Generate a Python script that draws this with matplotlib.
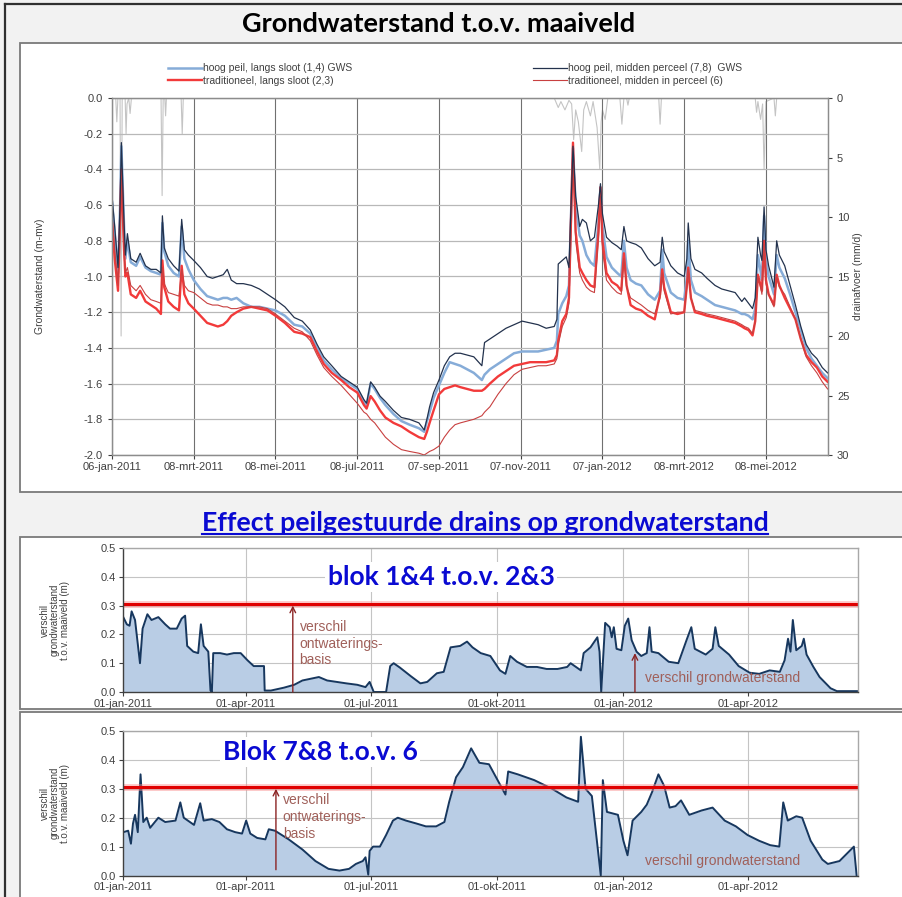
import numpy as np
import pandas as pd
import matplotlib
matplotlib.use("Agg")
import matplotlib.pyplot as plt
from matplotlib.patches import Rectangle
from matplotlib.lines import Line2D

W, H = 902, 897
plt.rcParams['font.family'] = ['Liberation Sans', 'DejaVu Sans']
TITLE_FONT = ['Lato', 'DejaVu Sans']

# ---------------- data: top chart (days after 06-jan-2011) ----------------
top_start = "2011-01-06"
top_days = [0, 2, 4.5, 6, 7, 9, 10, 11.5, 14, 18,
            21, 25, 29, 33, 36.5, 37.6, 39, 42, 46, 50,
            52, 54, 57, 61, 66, 71, 75, 79, 83, 86,
            89, 93, 98, 104, 110, 116, 122, 129, 136, 142,
            148, 153, 158, 164, 171, 177, 183, 188, 190, 193,
            196, 200, 204, 210, 216, 222, 229, 233, 235, 237,
            240, 244, 248, 252, 256, 260, 265, 270, 276, 278,
            282, 288, 294, 300, 306, 312, 318, 324, 330, 332,
            333, 336, 339, 341, 344, 346, 349, 351, 354, 357,
            360, 363, 364.5, 366, 369, 373, 377, 380, 382, 384,
            387, 391, 395, 400, 405, 409, 410.6, 412, 417, 422,
            427, 429, 430, 432, 435, 440, 444, 450, 455, 460,
            465, 470, 472, 475, 478, 480, 482, 484, 485, 486.6,
            488, 490, 494, 496, 498, 502, 506, 510, 514, 518,
            522, 526, 530, 534]
# hoog peil, midden perceel (7,8)
gws_78 = [-0.55, -0.72, -0.95, -0.60, -0.25, -0.70, -0.88, -0.76, -0.90, -0.92,
          -0.87, -0.94, -0.96, -0.96, -0.98, -0.66, -0.84, -0.90, -0.94, -0.97,
          -0.68, -0.85, -0.88, -0.91, -0.95, -1.00, -1.01, -1.00, -0.99, -0.96,
          -1.02, -1.04, -1.04, -1.05, -1.07, -1.10, -1.13, -1.17, -1.23, -1.25,
          -1.30, -1.38, -1.45, -1.50, -1.56, -1.59, -1.62, -1.69, -1.71, -1.59,
          -1.62, -1.67, -1.70, -1.75, -1.79, -1.80, -1.82, -1.86, -1.80, -1.73,
          -1.65, -1.58, -1.50, -1.45, -1.43, -1.43, -1.44, -1.45, -1.50, -1.37,
          -1.35, -1.32, -1.29, -1.27, -1.25, -1.26, -1.27, -1.29, -1.28, -1.24,
          -0.93, -0.91, -0.89, -0.95, -0.27, -0.55, -0.72, -0.68, -0.70, -0.80,
          -0.78, -0.60, -0.48, -0.65, -0.78, -0.81, -0.83, -0.85, -0.72, -0.80,
          -0.81, -0.82, -0.84, -0.90, -0.94, -0.92, -0.78, -0.86, -0.94, -0.98,
          -1.00, -0.90, -0.70, -0.90, -0.96, -0.98, -1.01, -1.05, -1.07, -1.08,
          -1.09, -1.14, -1.12, -1.15, -1.18, -1.12, -0.78, -0.88, -0.91, -0.61,
          -0.85, -0.94, -1.06, -0.80, -0.88, -0.94, -1.05, -1.16, -1.28, -1.38,
          -1.43, -1.46, -1.51, -1.54]
# hoog peil, langs sloot (1,4)
gws_14 = [-0.58, -0.75, -0.98, -0.62, -0.27, -0.72, -0.90, -0.80, -0.92, -0.94,
          -0.89, -0.95, -0.97, -0.98, -0.99, -0.70, -0.86, -0.94, -0.98, -1.00,
          -0.72, -0.90, -0.96, -1.02, -1.07, -1.11, -1.12, -1.13, -1.12, -1.12,
          -1.13, -1.12, -1.15, -1.17, -1.17, -1.18, -1.19, -1.22, -1.27, -1.28,
          -1.32, -1.40, -1.47, -1.52, -1.57, -1.60, -1.63, -1.70, -1.72, -1.60,
          -1.63, -1.68, -1.72, -1.77, -1.81, -1.83, -1.85, -1.87, -1.81, -1.76,
          -1.68, -1.61, -1.54, -1.48, -1.49, -1.50, -1.52, -1.54, -1.58, -1.55,
          -1.52, -1.49, -1.46, -1.43, -1.42, -1.42, -1.42, -1.41, -1.40, -1.36,
          -1.21, -1.15, -1.11, -1.05, -0.28, -0.60, -0.77, -0.80, -0.88, -0.92,
          -0.94, -0.70, -0.50, -0.72, -0.89, -0.95, -0.98, -1.00, -0.80, -0.95,
          -1.02, -1.04, -1.05, -1.10, -1.13, -1.08, -0.85, -0.98, -1.09, -1.12,
          -1.13, -1.00, -0.80, -1.02, -1.09, -1.11, -1.13, -1.16, -1.17, -1.18,
          -1.19, -1.21, -1.21, -1.22, -1.24, -1.18, -0.88, -0.97, -1.02, -0.66,
          -0.90, -1.00, -1.10, -0.88, -0.95, -1.01, -1.10, -1.20, -1.30, -1.40,
          -1.46, -1.50, -1.54, -1.57]
# traditioneel, langs sloot (2,3)
gws_23 = [-0.70, -0.90, -1.08, -0.70, -0.40, -0.85, -1.00, -0.98, -1.10, -1.12,
          -1.08, -1.14, -1.16, -1.18, -1.21, -0.91, -1.06, -1.14, -1.17, -1.19,
          -0.94, -1.10, -1.15, -1.18, -1.22, -1.26, -1.27, -1.28, -1.27, -1.25,
          -1.22, -1.20, -1.18, -1.17, -1.18, -1.19, -1.22, -1.26, -1.31, -1.32,
          -1.34, -1.42, -1.49, -1.54, -1.58, -1.62, -1.65, -1.72, -1.74, -1.67,
          -1.70, -1.75, -1.79, -1.82, -1.84, -1.87, -1.90, -1.91, -1.87, -1.82,
          -1.75, -1.66, -1.63, -1.62, -1.61, -1.62, -1.63, -1.64, -1.64, -1.63,
          -1.60, -1.56, -1.53, -1.50, -1.49, -1.48, -1.48, -1.48, -1.47, -1.44,
          -1.36, -1.25, -1.21, -1.12, -0.25, -0.75, -0.95, -0.98, -1.02, -1.05,
          -1.06, -0.75, -0.50, -0.80, -0.98, -1.03, -1.05, -1.08, -0.87, -1.05,
          -1.16, -1.18, -1.19, -1.22, -1.24, -1.10, -0.96, -1.06, -1.20, -1.21,
          -1.20, -1.05, -0.95, -1.12, -1.20, -1.21, -1.22, -1.23, -1.24, -1.25,
          -1.26, -1.28, -1.29, -1.30, -1.33, -1.25, -0.99, -1.05, -1.08, -0.80,
          -1.02, -1.10, -1.16, -0.99, -1.05, -1.12, -1.18, -1.24, -1.35, -1.44,
          -1.48, -1.51, -1.56, -1.59]
# traditioneel, midden in perceel (6)
gws_6 = [-0.65, -0.85, -1.05, -0.72, -0.45, -0.88, -0.98, -0.95, -1.05, -1.08,
         -1.05, -1.10, -1.13, -1.14, -1.15, -0.95, -1.04, -1.09, -1.10, -1.11,
         -0.96, -1.05, -1.08, -1.09, -1.12, -1.15, -1.16, -1.16, -1.17, -1.17,
         -1.18, -1.18, -1.17, -1.17, -1.17, -1.18, -1.21, -1.25, -1.29, -1.31,
         -1.36, -1.44, -1.51, -1.56, -1.61, -1.66, -1.71, -1.76, -1.77, -1.80,
         -1.82, -1.86, -1.90, -1.94, -1.97, -1.98, -1.99, -2.00, -1.99, -1.98,
         -1.97, -1.95, -1.90, -1.86, -1.83, -1.82, -1.81, -1.80, -1.78, -1.76,
         -1.73, -1.66, -1.60, -1.55, -1.52, -1.51, -1.50, -1.50, -1.49, -1.46,
         -1.38, -1.28, -1.23, -1.15, -0.30, -0.80, -0.98, -1.02, -1.06, -1.08,
         -1.09, -0.78, -0.55, -0.85, -1.02, -1.06, -1.09, -1.10, -0.90, -1.06,
         -1.12, -1.14, -1.16, -1.19, -1.21, -1.12, -0.98, -1.08, -1.21, -1.20,
         -1.20, -1.06, -0.96, -1.12, -1.19, -1.20, -1.21, -1.22, -1.23, -1.24,
         -1.25, -1.27, -1.28, -1.29, -1.32, -1.25, -1.00, -1.06, -1.10, -0.82,
         -1.04, -1.10, -1.17, -1.00, -1.06, -1.10, -1.17, -1.24, -1.35, -1.45,
         -1.50, -1.54, -1.59, -1.63]
# drainafvoer (mm/d), right axis
drain_days = [0, 2.8, 3.6, 4.4, 6.0, 6.8, 7.6, 9.8, 10.5, 11.2,
              12.5, 13.5, 14.5, 36.6, 37.4, 38.2, 39.4, 40.0, 40.6, 51.6,
              52.4, 53.2, 330, 333, 335, 338, 341, 343, 344.5, 346,
              348, 350.5, 352, 354, 357, 359, 362, 364, 365, 366,
              368, 370, 379, 380.5, 382, 384, 385, 386, 408, 409,
              410, 480, 481, 482, 484, 485.5, 486.6, 488, 494, 495,
              496, 534]
drain_mm = [0, 0, 2.0, 0, 0, 20.0, 0, 0, 3.0, 0.5,
            0, 1.3, 0, 0, 8.2, 0, 0, 1.5, 0, 0,
            3.0, 0, 0, 0.8, 0.3, 1.0, 0.2, 0.5, 3.5, 1.0,
            2.0, 4.5, 1.0, 0.3, 1.5, 0.3, 2.5, 6.0, 2.0, 1.0,
            1.8, 0, 0, 2.2, 0, 0, 0.6, 0, 0, 2.2,
            0, 0, 1.2, 0.3, 1.8, 0.5, 6.0, 0.3, 0, 1.5,
            0, 0]
top_ticks = ["2011-01-06", "2011-03-08", "2011-05-08", "2011-07-08", "2011-09-07",
             "2011-11-07", "2012-01-07", "2012-03-08", "2012-05-08"]
top_tick_labels = ["06-jan-2011", "08-mrt-2011", "08-mei-2011", "08-jul-2011", "07-sep-2011",
                   "07-nov-2011", "07-jan-2012", "08-mrt-2012", "08-mei-2012"]
legend_labels = ["hoog peil, langs sloot (1,4) GWS", "traditioneel, langs sloot (2,3)",
                 "hoog peil, midden perceel (7,8)  GWS", "traditioneel, midden in perceel (6)"]

# ---------------- data: difference panels (days after 01-jan-2011) ----------------
diff_start = "2011-01-01"
blok14_days = [0, 3, 5, 6.5, 9, 12.6, 14.5, 18, 21, 26,
               31, 34.5, 39.4, 43, 45.5, 47, 51.5, 55, 57, 59,
               62.4, 64, 65, 66, 71, 76, 81, 86, 91, 95.5,
               103, 103.5, 108, 117.5, 125, 131, 137, 143, 149, 156,
               163, 171, 177, 180, 183, 192, 195, 197.5, 202, 210,
               217, 222, 229, 234, 239, 246, 251, 255, 261, 268,
               275, 279, 282.5, 287.4, 294.6, 302, 309, 317, 324, 326.5,
               334, 336, 341, 346, 347.6, 348.8, 350, 351.7, 355, 356.5,
               358, 360, 363.5, 366, 368.5, 371, 374.6, 378, 382, 384,
               385.6, 390.5, 398, 405, 411, 414.5, 417, 425, 430, 432,
               434.5, 442, 449, 457, 464, 471.6, 479, 482.5, 485, 486.8,
               488.5, 491, 495, 496.5, 498.5, 503.5, 508, 516, 520.6, 536]
blok14_diff = [0.264, 0.235, 0.23, 0.28, 0.25, 0.10, 0.22, 0.27, 0.25, 0.26,
               0.235, 0.22, 0.22, 0.255, 0.265, 0.16, 0.14, 0.135, 0.235, 0.16,
               0.14, 0.005, 0.0, 0.135, 0.135, 0.13, 0.135, 0.135, 0.11, 0.09,
               0.09, 0.005, 0.005, 0.015, 0.025, 0.04, 0.046, 0.052, 0.04, 0.035,
               0.03, 0.025, 0.017, 0.035, 0.0, 0.0, 0.09, 0.10, 0.085, 0.055,
               0.03, 0.035, 0.065, 0.07, 0.155, 0.16, 0.175, 0.155, 0.135, 0.125,
               0.075, 0.063, 0.125, 0.105, 0.087, 0.087, 0.08, 0.08, 0.087, 0.10,
               0.075, 0.135, 0.155, 0.19, 0.14, 0.0, 0.10, 0.24, 0.225, 0.19,
               0.225, 0.15, 0.145, 0.23, 0.255, 0.18, 0.14, 0.125, 0.135, 0.225,
               0.14, 0.135, 0.105, 0.10, 0.18, 0.225, 0.15, 0.13, 0.15, 0.225,
               0.16, 0.13, 0.09, 0.067, 0.063, 0.075, 0.07, 0.11, 0.185, 0.14,
               0.25, 0.145, 0.16, 0.185, 0.13, 0.087, 0.052, 0.013, 0.003, 0.003]
blok78_days = [0.5, 4, 6, 7.5, 9, 11, 13, 15, 17.5, 20,
               26, 31, 38.5, 42, 44.5, 52, 56.5, 59, 65, 70.5,
               76, 82, 87, 90, 93, 98, 104, 106.5, 111, 116,
               121, 131, 140.5, 150, 158, 165, 170, 175, 177, 179,
               180, 182.5, 187.5, 192, 197, 200.5, 206.5, 214, 221, 228.5,
               234.5, 238, 243, 248, 254, 260, 267, 279, 281, 288,
               300, 313, 323.5, 332, 334, 337.4, 342, 348.5, 350, 353,
               361, 365, 368, 371.7, 378, 382, 386, 390.5, 394.7, 398.7,
               403, 407, 413, 422, 430, 438.8, 447, 455.5, 464, 472,
               478.6, 481.5, 484.8, 491, 495.3, 501.5, 510, 514, 522.5, 533,
               535]
blok78_diff = [0.15, 0.155, 0.11, 0.18, 0.21, 0.15, 0.35, 0.185, 0.20, 0.165,
               0.20, 0.185, 0.19, 0.253, 0.20, 0.175, 0.25, 0.19, 0.195, 0.185,
               0.16, 0.15, 0.145, 0.19, 0.145, 0.13, 0.125, 0.16, 0.155, 0.14,
               0.125, 0.09, 0.05, 0.023, 0.017, 0.023, 0.04, 0.05, 0.063, 0.003,
               0.085, 0.10, 0.10, 0.14, 0.19, 0.20, 0.19, 0.18, 0.17, 0.17,
               0.185, 0.255, 0.34, 0.375, 0.44, 0.39, 0.385, 0.28, 0.36, 0.35,
               0.33, 0.30, 0.27, 0.255, 0.48, 0.30, 0.275, 0.0, 0.33, 0.22,
               0.21, 0.12, 0.07, 0.19, 0.22, 0.245, 0.29, 0.35, 0.31, 0.235,
               0.24, 0.26, 0.21, 0.225, 0.235, 0.19, 0.17, 0.14, 0.12, 0.105,
               0.10, 0.253, 0.19, 0.205, 0.20, 0.12, 0.055, 0.04, 0.05, 0.10,
               0.0]
verschil_basis = 0.305
diff_ticks = ["2011-01-01", "2011-04-01", "2011-07-01", "2011-10-01", "2012-01-01", "2012-04-01"]
diff_tick_labels = ["01-jan-2011", "01-apr-2011", "01-jul-2011", "01-okt-2011", "01-jan-2012", "01-apr-2012"]


def fx(px):
    return px / W


def fy(py):
    return 1 - py / H


def box(x0, y0, x1, y1):
    return [fx(x0), fy(y1), fx(x1) - fx(x0), fy(y0) - fy(y1)]


def to_dates(start, days):
    return pd.Timestamp(start) + pd.to_timedelta(np.asarray(days, dtype=float), unit="D")


fig = plt.figure(figsize=(W / 100, H / 100), dpi=100, facecolor="#f2f2f2")

# slide frame and white panels
fig.add_artist(Line2D([fx(5), fx(5)], [0, fy(4)], color="#303030", lw=1.6, transform=fig.transFigure))
fig.add_artist(Line2D([fx(5), 1], [fy(4), fy(4)], color="#303030", lw=1.6, transform=fig.transFigure))
for (y0, y1) in [(43, 492), (537, 709), (712, 905)]:
    fig.add_artist(Rectangle((fx(20), fy(y1)), fx(910) - fx(20), fy(y0) - fy(y1),
                             transform=fig.transFigure, facecolor="white",
                             edgecolor="#7a7a7a", lw=1.3, zorder=-1))

fig.text(fx(439), fy(24), "Grondwaterstand t.o.v. maaiveld", ha="center", va="center",
         fontsize=19.5, fontweight="bold", family=TITLE_FONT, color="black")

# ---------------- top chart ----------------
ax = fig.add_axes(box(112, 98, 828, 455))
ax2 = ax.twinx()
ax.set_zorder(ax2.get_zorder() + 1)
ax.patch.set_visible(False)
ax2.set_facecolor("white")

tdates = to_dates(top_start, top_days)
h_blue, = ax.plot(tdates, gws_14, color="#86acd8", lw=1.8, label=legend_labels[0])
h_red, = ax.plot(tdates, gws_23, color="#f23a3a", lw=1.7, label=legend_labels[1])
h_red6, = ax.plot(tdates, gws_6, color="#c84040", lw=0.8, label=legend_labels[3])
h_navy, = ax.plot(tdates, gws_78, color="#23324d", lw=0.9, label=legend_labels[2])
ax2.plot(to_dates(top_start, drain_days), drain_mm, color="#c4c4c4", lw=0.8)

x0 = pd.Timestamp(top_start)
ax.set_xlim(x0, x0 + pd.Timedelta(days=534.3))
ax.set_ylim(-2.0, 0.0)
ax.set_yticks(np.round(np.arange(-2.0, 0.01, 0.2), 1))
ax.set_yticklabels([f"{v:.1f}".replace("-0.0", "0.0") for v in np.round(np.arange(-2.0, 0.01, 0.2), 1)])
ax.set_xticks(pd.to_datetime(top_ticks))
ax.set_xticklabels(top_tick_labels)
ax2.set_ylim(30, 0)
ax2.set_yticks(range(0, 31, 5))
ax.yaxis.grid(True, color="#b8b8b8", lw=0.9)
ax.xaxis.grid(True, color="#707070", lw=0.8)
ax.set_axisbelow(True)
for a in (ax, ax2):
    a.tick_params(labelsize=8, colors="#404040", length=3, width=0.8)
    for s in a.spines.values():
        s.set_color("#8c8c8c")
        s.set_linewidth(0.9)
ax.tick_params(axis="x", pad=2)

fig.text(fx(40), fy(276), "Grondwaterstand (m-mv)", rotation=90, ha="center", va="center",
         fontsize=7.5, color="#404040")
fig.text(fx(858), fy(276), "drainafvoer (mm/d)", rotation=90, ha="center", va="center",
         fontsize=7.5, color="#404040")

leg_kw = dict(loc="upper left", frameon=False, fontsize=7.5, handlelength=3.2,
              handletextpad=0.1, labelspacing=0.25, borderpad=0, labelcolor="#404040")
fig.legend(handles=[h_blue, h_red], bbox_to_anchor=(fx(163), fy(58)), **leg_kw)
fig.legend(handles=[h_navy, h_red6], bbox_to_anchor=(fx(528), fy(58)), **leg_kw)

# ---------------- difference panels ----------------
eff = fig.text(fx(485), fy(523), "Effect peilgestuurde drains op grondwaterstand", ha="center",
               va="center", fontsize=19.3, fontweight="bold", family=TITLE_FONT, color="#0a0ad2")


def plot_difference(axes, days, values):
    d = to_dates(diff_start, days)
    axes.fill_between(d, values, 0, color="#b9cde5", lw=0)
    axes.plot(d, values, color="#17375e", lw=1.4)
    axes.axhline(verschil_basis, color="#ff8c8c", lw=5, alpha=0.45)
    axes.axhline(verschil_basis, color="#e00000", lw=2.2)
    s = pd.Timestamp(diff_start)
    axes.set_xlim(s, s + pd.Timedelta(days=536))
    axes.set_ylim(0, 0.5)
    axes.set_yticks(np.round(np.arange(0, 0.51, 0.1), 1))
    axes.set_yticklabels([f"{v:.1f}" for v in np.round(np.arange(0, 0.51, 0.1), 1)])
    axes.set_xticks(pd.to_datetime(diff_ticks))
    axes.set_xticklabels(diff_tick_labels)
    axes.grid(True, color="#c4c4c4", lw=0.8)
    axes.set_axisbelow(True)
    axes.tick_params(labelsize=8, colors="#404040", length=3, width=0.8, pad=2)
    for name, s_ in axes.spines.items():
        s_.set_color("#404040" if name in ("left", "bottom") else "#a8a8a8")
        s_.set_linewidth(1.0)


ax_a = fig.add_axes(box(122.7, 548, 858, 692))
plot_difference(ax_a, blok14_days, blok14_diff)
ax_b = fig.add_axes(box(122.7, 731, 858, 875.5))
plot_difference(ax_b, blok78_days, blok78_diff)

ylab = "verschil\ngrondwaterstand\nt.o.v. maaiveld (m)"
fig.text(fx(55), fy(620), ylab, rotation=90, ha="center", va="center", fontsize=7,
         color="#404040", linespacing=0.95)
fig.text(fx(55), fy(803), ylab, rotation=90, ha="center", va="center", fontsize=7,
         color="#404040", linespacing=0.95)

blue_txt = dict(ha="center", va="center", fontsize=19, fontweight="bold", family=TITLE_FONT,
                color="#0a0ad2", bbox=dict(facecolor="white", edgecolor="none", pad=2))
fig.text(fx(441), fy(577), "blok 1&4 t.o.v. 2&3", **blue_txt)
fig.text(fx(320), fy(752), "Blok 7&8 t.o.v. 6", **blue_txt)

arrow = dict(arrowstyle="->", color="#8b2323", lw=1.0, shrinkA=0, shrinkB=0)
note = dict(fontsize=10, color="#a0605a", linespacing=1.25)
s = pd.Timestamp(diff_start)
ax_a.annotate("", xy=(s + pd.Timedelta(days=124), 0.30), xytext=(s + pd.Timedelta(days=124), 0.0),
              arrowprops=arrow)
ax_a.text(s + pd.Timedelta(days=129), 0.25, "verschil\nontwaterings-\nbasis", va="top", ha="left", **note)
ax_a.annotate("", xy=(s + pd.Timedelta(days=373.4), 0.135), xytext=(s + pd.Timedelta(days=373.4), 0.0),
              arrowprops=arrow)
ax_a.text(s + pd.Timedelta(days=380.7), 0.05, "verschil grondwaterstand", va="center", ha="left", **note)

ax_b.annotate("", xy=(s + pd.Timedelta(days=111.7), 0.30), xytext=(s + pd.Timedelta(days=111.7), 0.02),
              arrowprops=arrow)
ax_b.text(s + pd.Timedelta(days=116.7), 0.285, "verschil\nontwaterings-\nbasis", va="top", ha="left", **note)
ax_b.text(s + pd.Timedelta(days=381), 0.05, "verschil grondwaterstand", va="center", ha="left", **note)

# underline of the section title
fig.canvas.draw()
bb = eff.get_window_extent().transformed(fig.transFigure.inverted())
fig.add_artist(Line2D([bb.x0, bb.x1], [bb.y0 + 0.001, bb.y0 + 0.001], color="#0a0ad2", lw=1.5,
                      transform=fig.transFigure))

fig.savefig("out.png", dpi=100, facecolor=fig.get_facecolor())
